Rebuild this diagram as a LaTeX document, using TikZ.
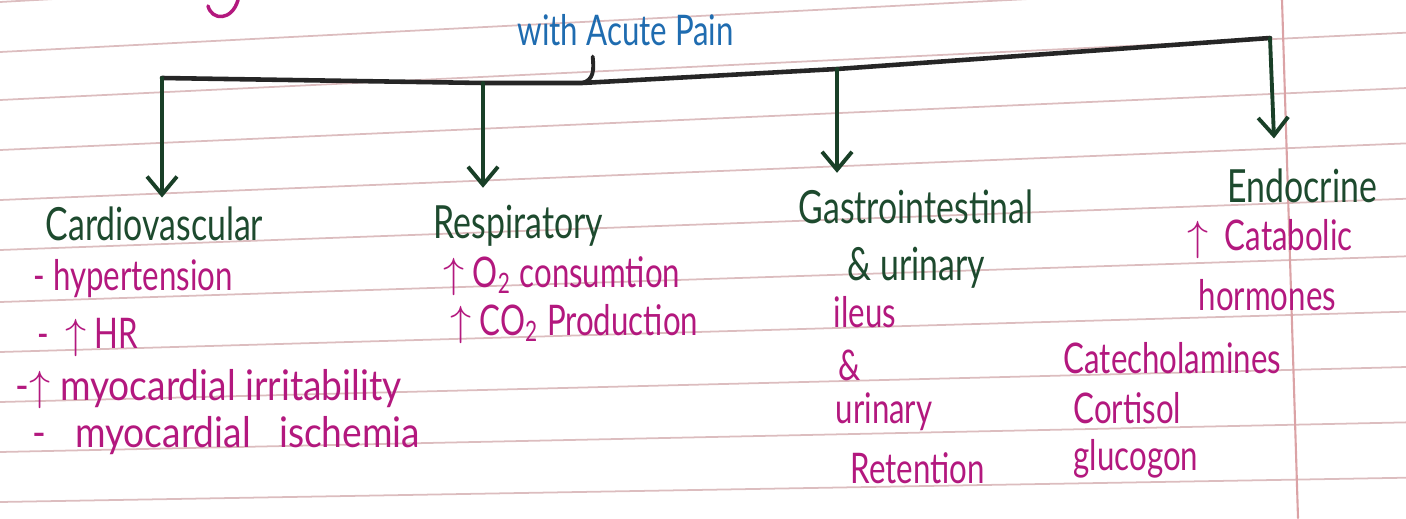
\documentclass[tikz,border=0pt]{standalone}
\usepackage{fontspec}
\newfontfamily\hand[FakeStretch=0.74]{Lato}
\newfontfamily\handwide[FakeStretch=0.88]{Lato}
\usepackage{tikz}
\usetikzlibrary{arrows.meta}
\definecolor{headgreen}{HTML}{1D4A2E}
\definecolor{itemmag}{HTML}{B3187E}
\definecolor{penblue}{HTML}{1F6CB0}
\definecolor{ruled}{HTML}{DCBDBF}
\definecolor{margin}{HTML}{DBA3A6}
\tikzset{
  every picture/.style={line join=round, line cap=round},
  head/.style={anchor=base west, inner sep=0pt, text=headgreen, font=\hand\fontsize{13}{15}\selectfont},
  item/.style={anchor=base west, inner sep=0pt, text=itemmag, font=\hand\fontsize{12}{14}\selectfont},
  branch/.style={draw=headgreen!85!black, line width=1.1pt, -{Straight Barb[length=1.8mm,width=3mm]}},
  trunk/.style={draw=black!85, line width=1.3pt},
  ruledline/.style={draw=ruled, line width=0.5pt},
}

\begin{document}
\begin{tikzpicture}[x=0.01cm,y=-0.01cm]
\useasboundingbox (0,0) rectangle (1406,518);
% paper
\foreach \y in {2,52,100,150,200,250,302,352,402,452,502}{\draw[ruledline](0,\y)--(1406,{1.107*\y-78});}
\draw[margin,line width=0.6pt](1282,0)--(1298,518);
\draw[itemmag,line width=1pt](208,6) .. controls (212,21) and (232,21) .. (238,0);
% top label and main line
\node[anchor=base west,inner sep=0pt,text=penblue,font=\hand\fontsize{12}{14}\selectfont] (pain) at (517,45) {with Acute Pain};
\coordinate (jc) at (162,78); \coordinate (jr) at (483,83); \coordinate (jp) at (582,83);
\coordinate (jg) at (837,69); \coordinate (je) at (1270,38);
\draw[trunk](jc)--(jr)--(jp)--(jg)--(je);
\draw[trunk,line width=1.1pt](jp) .. controls (594,80) and (594,70) .. ([xshift=-0.33cm,yshift=-3pt]pain.south);
% headings
\node[head] (cardio) at (45,240) {Cardiovascular};
\node[head] (resp) at (433,238) {Respiratory};
\node[head] (gastro) at (798,223) {Gastrointestinal};
\node[head] (gastro2) at (847,280) {\& urinary};
\node[head] (endo) at (1227,202) {Endocrine};
\draw[branch](jc)--([yshift=2.3pt]jc|-cardio.north);
\draw[branch](jr)--([yshift=4.6pt]jr|-resp.north);
\draw[branch](jg)--([yshift=4.5pt]jg|-gastro.north);
\draw[branch](je)--([yshift=8.3pt]1274,0|-endo.north);
% cardiovascular
\node[item] (c1) at (33,290) {- hypertension};
\node[item] (c2) at (37,348) {- \ $\uparrow$ HR};
\node[item,font=\handwide\fontsize{12}{14}\selectfont] (c3) at (15,400) {-$\uparrow$ myocardial irritability};
\node[item,font=\handwide\fontsize{12}{14}\selectfont] (c4) at (32,447) {-\ \ \ myocardial\ \ \ ischemia};
% respiratory
\node[item] (r1) at (443,287) {$\uparrow$ O\textsubscript{2} consumtion};
\node[item] (r2) at (450,335) {$\uparrow$ CO\textsubscript{2} Production};
% gastrointestinal
\node[item] (g1) at (833,327) {ileus};
\node[item] (g2) at (838,380) {\&};
\node[item] (g3) at (835,423) {urinary};
\node[item] (g4) at (850,483) {Retention};
% endocrine
\node[item] (e1) at (1187,250) {$\uparrow$ \ Catabolic};
\node[item] (e2) at (1198,310) {hormones};
\node[item] (e3) at (1063,373) {Catecholamines};
\node[item] (e4) at (1073,423) {Cortisol};
\node[item] (e5) at (1073,470) {glucogon};
\end{tikzpicture}
\end{document}
